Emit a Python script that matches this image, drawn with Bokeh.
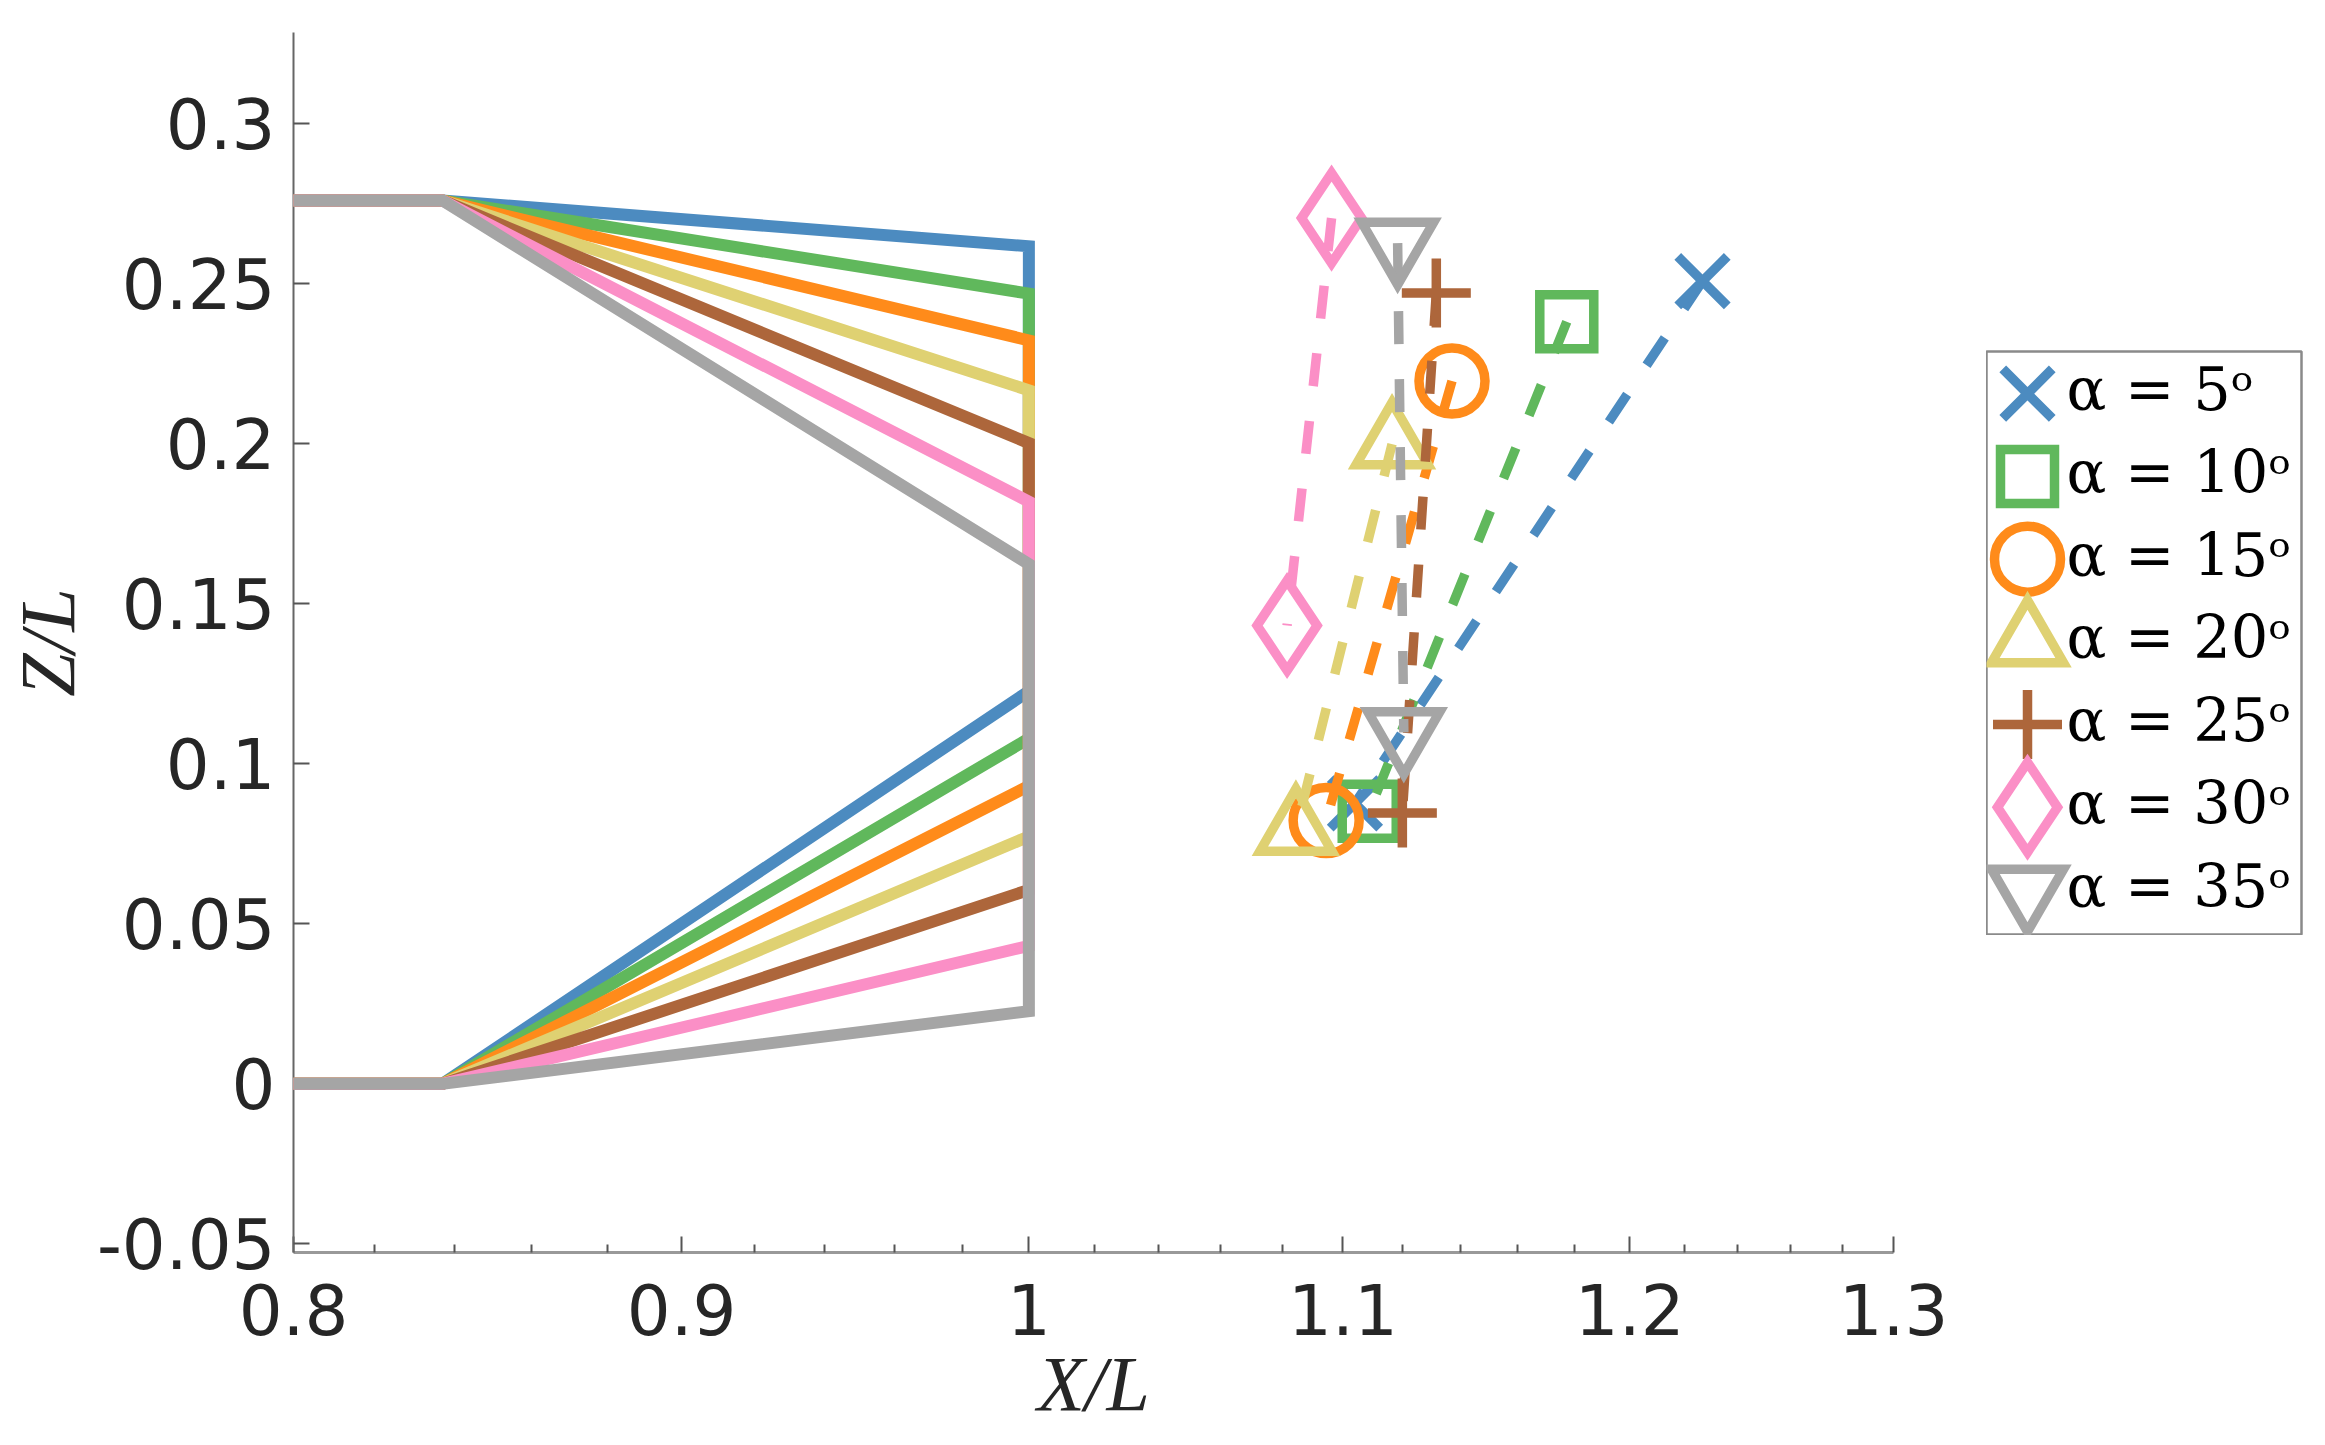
from bokeh.core.properties import value
from bokeh.embed import file_html
from bokeh.layouts import row
from bokeh.models import BasicTickFormatter, FixedTicker, Range1d
from bokeh.plotting import figure
from bokeh.resources import INLINE

# ---------- data ----------
angles = ["5", "10", "15", "20", "25", "30", "35"]
colors = ["#4c8bc0", "#60b85c", "#ff8b1a", "#dfd172", "#ad663b", "#fb8fc6", "#a5a5a5"]
markers = ["x", "square", "circle", "triangle", "cross", "diamond", "inverted_triangle"]
marker_sizes = [70, 54, 66, 72, 69, 90, 72]

body_x = [0.8, 0.837, 1.0, 1.0, 0.837, 0.8]
body_z_start = 0.276
trail_top = [0.2617, 0.2469, 0.2323, 0.2167, 0.2002, 0.1819, 0.1624]
trail_bottom = [0.1227, 0.1079, 0.0931, 0.0773, 0.0606, 0.0431, 0.0227]

upper_x = [1.2268, 1.1773, 1.1370, 1.1165, 1.1316, 1.0962, 1.1184]
upper_z = [0.2508, 0.2381, 0.2196, 0.1999, 0.2471, 0.2705, 0.2627]
lower_x = [1.1040, 1.1088, 1.0944, 1.0844, 1.1200, 1.0815, 1.1205]
lower_z = [0.0876, 0.0852, 0.0823, 0.0792, 0.0846, 0.1432, 0.1098]

x_major = [0.8, 0.9, 1.0, 1.1, 1.2, 1.3]
x_labels = ["0.8", "0.9", "1", "1.1", "1.2", "1.3"]
x_minor = [0.82, 0.84, 0.86, 0.88, 0.92, 0.94, 0.96, 0.98, 1.02, 1.04, 1.06, 1.08,
           1.12, 1.14, 1.16, 1.18, 1.22, 1.24, 1.26, 1.28]
y_major = [-0.05, 0.0, 0.05, 0.1, 0.15, 0.2, 0.25, 0.3]
y_labels = ["-0.05", "0", "0.05", "0.1", "0.15", "0.2", "0.25", "0.3"]

# ---------- main axes ----------
p = figure(width=1986, height=1429, x_axis_type="log",
           x_range=Range1d(0.8, 1.3), y_range=Range1d(-0.0527, 0.3285),
           output_backend="svg", toolbar_location=None, frame_align=False,
           min_border_left=287, min_border_right=93, min_border_top=32, min_border_bottom=177)
p.grid.visible = False
p.outline_line_color = None

for i in range(7):
    p.line(body_x, [body_z_start, body_z_start, trail_top[i], trail_bottom[i], 0.0, 0.0],
           line_color=colors[i], line_width=12, line_join="miter", level="overlay")

for i in range(7):
    p.line([upper_x[i], lower_x[i]], [upper_z[i], lower_z[i]], line_color=colors[i],
           line_width=9.5, line_dash=[33, 35], line_cap="butt")
    p.scatter([upper_x[i], lower_x[i]], [upper_z[i], lower_z[i]], marker=markers[i],
              size=marker_sizes[i], line_color=colors[i], line_width=9.5, fill_alpha=0,
              line_join="miter")

xa = p.xaxis[0]
xa.ticker = FixedTicker(ticks=x_major, minor_ticks=x_minor)
xa.formatter = BasicTickFormatter()
xa.major_label_overrides = dict(zip(x_major, x_labels))
ya = p.yaxis[0]
ya.ticker = FixedTicker(ticks=y_major)
ya.major_label_overrides = dict(zip(y_major, y_labels))

for ax in (xa, ya):
    ax.major_tick_in = 16
    ax.major_tick_out = 0
    ax.major_tick_line_width = 2
    ax.major_tick_line_color = "#555555"
    ax.minor_tick_line_width = 2
    ax.minor_tick_line_color = "#555555"
    ax.major_label_text_font = "DejaVu Sans"
    ax.major_label_text_font_size = "69px"
    ax.major_label_text_color = "#262626"
    ax.axis_label_text_font = "Liberation Serif"
    ax.axis_label_text_font_style = "italic"
    ax.axis_label_text_font_size = "78px"
    ax.axis_label_text_line_height = 1.0
    ax.axis_label_text_color = "#262626"
xa.minor_tick_in = 8
xa.minor_tick_out = 0
ya.minor_tick_in = 0
ya.minor_tick_out = 0
xa.axis_line_color = "#999999"
xa.axis_line_width = 3
ya.axis_line_color = "#666666"
ya.axis_line_width = 2
xa.major_label_standoff = 31
ya.major_label_standoff = 18
xa.axis_label = "X/L"
ya.axis_label = "Z/L"
xa.axis_label_standoff = 2
ya.axis_label_standoff = 3

# ---------- legend panel ----------
leg = figure(width=329, height=935, x_range=Range1d(0, 315), y_range=Range1d(6.55, -0.51),
             output_backend="svg", toolbar_location=None, x_axis_type=None, y_axis_type=None,
             frame_align=False,
             min_border_left=0, min_border_right=14, min_border_top=351, min_border_bottom=0)
leg.grid.visible = False
leg.outline_line_color = "#8a8a8a"
leg.outline_line_width = 2.5
for i in range(7):
    leg.scatter([41], [i], marker=markers[i], size=marker_sizes[i], line_color=colors[i],
                line_width=9.5, fill_alpha=0, line_join="miter")
    leg.text([80], [i], text=[f"α = {angles[i]}ᵒ"], text_font=value("DejaVu Serif"),
             text_font_size="59px", text_baseline="middle", text_color="#000000", y_offset=-4)

layout = row(p, leg, spacing=0)
open("out.html", "w").write(file_html(layout, INLINE))
